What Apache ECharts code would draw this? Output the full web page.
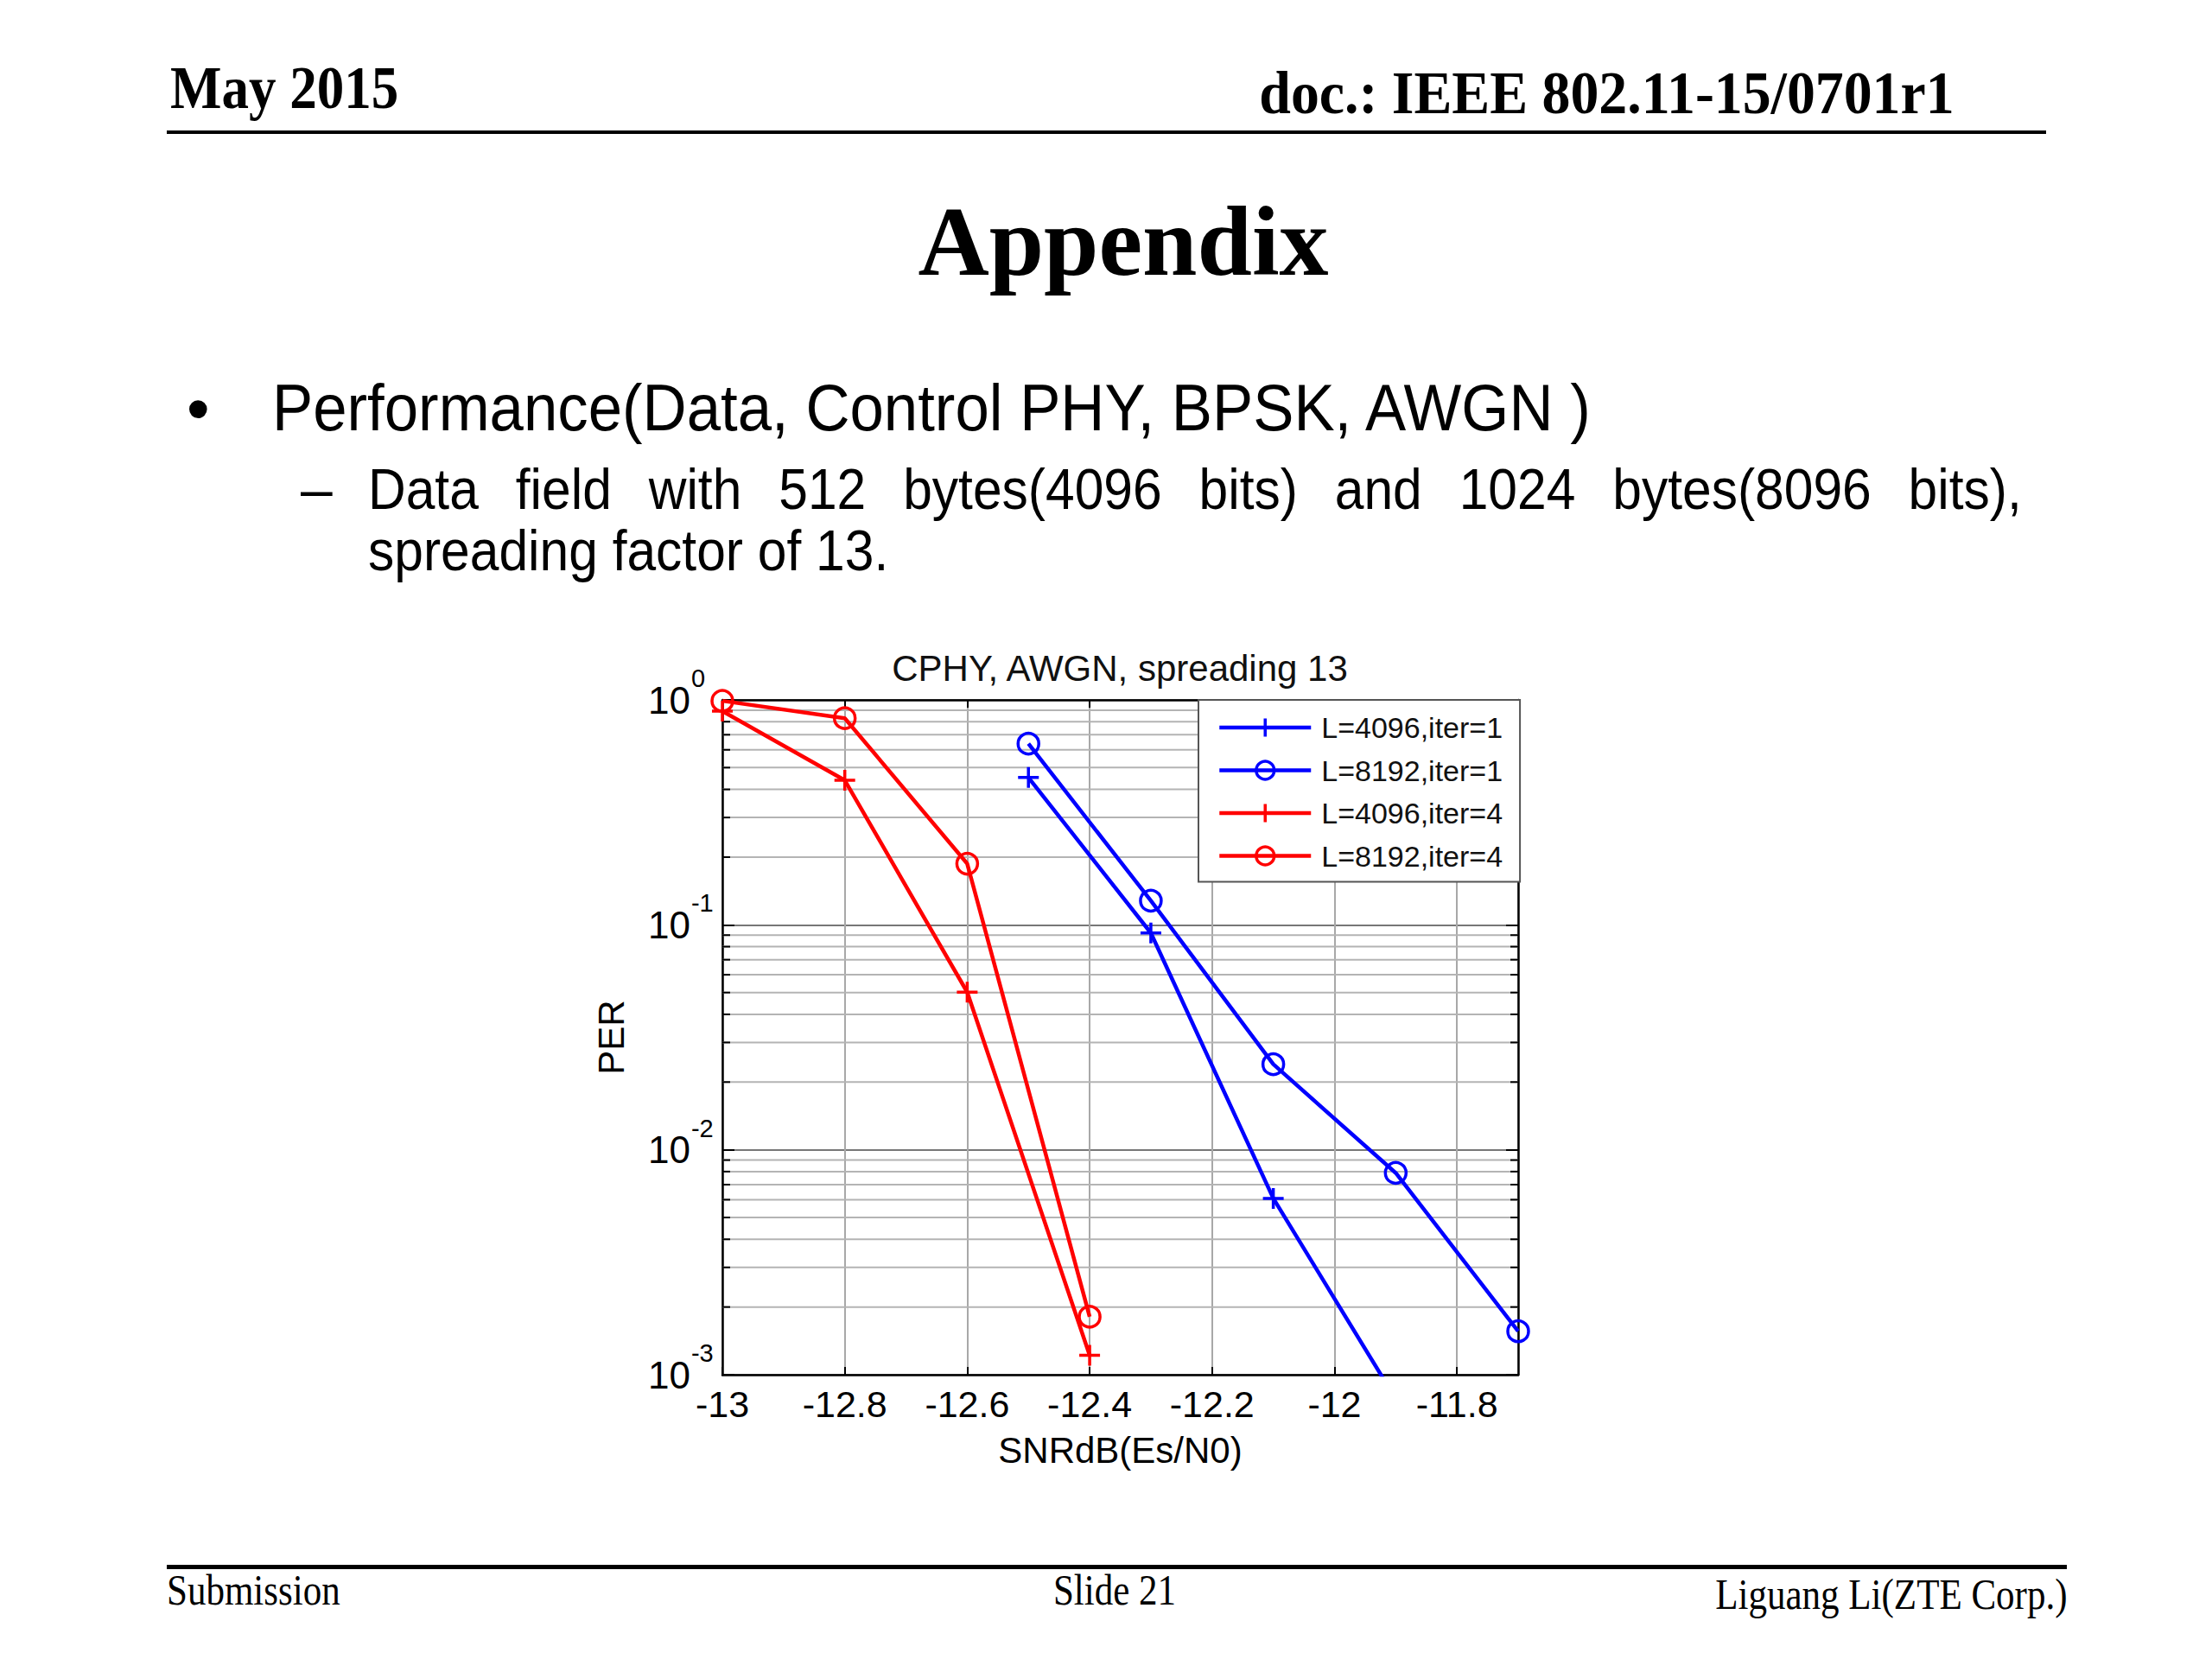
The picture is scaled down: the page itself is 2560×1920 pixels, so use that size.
<!DOCTYPE html>
<html><head><meta charset="utf-8">
<script src="https://cdn.jsdelivr.net/npm/echarts@6/dist/echarts.min.js"></script>
<style>
html,body{margin:0;padding:0;background:#fff;}
#page{position:relative;width:2560px;height:1920px;overflow:hidden;background:#fff;}
#chart{position:absolute;left:0;top:0;width:2560px;height:1920px;}
.t{position:absolute;white-space:nowrap;line-height:1;color:#000;z-index:2;}
.serif{font-family:"Liberation Serif","Times New Roman",serif;}
.sans{font-family:"Liberation Sans",Arial,sans-serif;}
.rule{position:absolute;background:#000;z-index:2;}
</style></head>
<body><div id="page">
<div id="chart"></div>
<div class="t serif" style="left:197px;top:67px;font-size:70px;font-weight:bold;transform:scaleX(0.9);transform-origin:left top;">May 2015</div>
<div class="t serif" style="right:298px;top:73px;font-size:70px;font-weight:bold;transform:scaleX(0.94);transform-origin:right top;">doc.: IEEE 802.11-15/0701r1</div>
<div class="rule" style="left:193px;top:151px;width:2175px;height:4px;"></div>
<div class="t serif" style="left:1300px;top:223px;font-size:114px;font-weight:bold;transform:translateX(-50%);">Appendix</div>
<div class="t sans" style="left:216px;top:435px;font-size:76px;">•</div>
<div class="t sans" style="left:315px;top:434px;font-size:76px;transform:scaleX(0.931);transform-origin:left top;">Performance(Data, Control PHY, BPSK, AWGN )</div>
<div class="t sans" style="left:348px;top:533px;font-size:66px;">–</div>
<div class="t sans" style="left:426px;top:533px;font-size:66px;width:2087px;text-align:justify;text-align-last:justify;white-space:normal;transform:scaleX(0.917);transform-origin:left top;">Data field with 512 bytes(4096 bits) and 1024 bytes(8096 bits),</div>
<div class="t sans" style="left:426px;top:604px;font-size:66px;transform:scaleX(0.917);transform-origin:left top;">spreading factor of 13.</div>
<div class="rule" style="left:193px;top:1811px;width:2199px;height:5px;"></div>
<div class="t serif" style="left:193px;top:1815px;font-size:50px;transform:scaleX(0.86);transform-origin:left top;">Submission</div>
<div class="t serif" style="left:1290px;top:1815px;font-size:50px;transform:translateX(-50%) scaleX(0.86);">Slide 21</div>
<div class="t serif" style="right:168px;top:1820px;font-size:50px;transform:scaleX(0.86);transform-origin:right top;">Liguang Li(ZTE Corp.)</div>
</div>
<script>
// ---- data ----
const snrIter1 = [-12.5, -12.3, -12.1, -11.9, -11.7];
const snrIter4 = [-13, -12.8, -12.6, -12.4];
const perL4096Iter1 = [0.452, 0.092, 0.00608, 0.00078];
const perL8192Iter1 = [0.639, 0.128, 0.0240, 0.00789, 0.00156];
const perL4096Iter4 = [0.891, 0.439, 0.0502, 0.00122];
const perL8192Iter4 = [0.99, 0.829, 0.187, 0.00181];
const seriesNames = ['L=4096,iter=1', 'L=8192,iter=1', 'L=4096,iter=4', 'L=8192,iter=4'];
const xMin = -13, xMax = -11.7, xStep = 0.2;
const yMin = 0.001, yMax = 1;
const minorMantissas = [2, 3, 4, 5, 6, 7, 8, 9];
const minorDecades = [-3, -2, -1];
const chartTitle = 'CPHY, AWGN, spreading 13';
const xName = 'SNRdB(Es/N0)';
const yName = 'PER';

const FONT = '"Liberation Sans", Arial, sans-serif';
const BLUE = '#0000ff', RED = '#ff0000';
const PLUS = 'path://M10,0L10,20M0,10L20,10';

function zip(xs, ys) { return ys.map((y, i) => [xs[i], y]); }
const minorTicks = [];
minorDecades.forEach(d => minorMantissas.forEach(m => minorTicks.push(+(m * Math.pow(10, d)).toPrecision(3))));

function lineSeries(name, xs, ys, color, marker) {
  const isCircle = marker === 'circle';
  return {
    name, type: 'line', xAxisIndex: 0, yAxisIndex: 0,
    data: zip(xs, ys),
    symbol: isCircle ? 'circle' : PLUS,
    symbolSize: 24,
    showAllSymbol: true,
    lineStyle: { color, width: 4.5 },
    itemStyle: { color: isCircle ? 'rgba(0,0,0,0)' : color, borderColor: color, borderWidth: 3.5 },
    emphasis: { disabled: true },
    clip: true, z: 3, animation: false
  };
}

const chart = echarts.init(document.getElementById('chart'), null, { renderer: 'svg', width: 2560, height: 1920 });
const axisLineStyle = { color: '#000', width: 2.5 };
chart.setOption({
  animation: false,
  backgroundColor: 'transparent',
  textStyle: { fontFamily: FONT, color: '#000' },
  title: {
    text: chartTitle, left: 1296, top: 752, textAlign: 'center', padding: 0,
    textStyle: { fontSize: 42, fontWeight: 'normal', color: '#111', fontFamily: FONT }
  },
  grid: { left: 836, top: 810, width: 921, height: 781, containLabel: false },
  legend: {
    orient: 'vertical', left: 1387, top: 810, data: seriesNames,
    itemWidth: 106, itemHeight: 26, itemGap: 15.5,
    padding: [15, 20, 13, 22],
    backgroundColor: '#fff', borderColor: '#555', borderWidth: 2,
    selectedMode: false,
    lineStyle: { width: 4.5 },
    itemStyle: { borderWidth: 3.5 },
    textStyle: { fontSize: 34, color: '#111', fontFamily: FONT, lineHeight: 34, padding: [0, 0, 0, 7] }
  },
  xAxis: [
    {
      type: 'value', min: xMin, max: xMax, interval: xStep, position: 'bottom',
      axisLine: { show: true, onZero: false, lineStyle: axisLineStyle },
      axisTick: { show: true, inside: true, length: 9, lineStyle: { color: '#000', width: 2 } },
      axisLabel: { show: true, margin: 12, fontSize: 43, color: '#000', fontFamily: FONT, showMaxLabel: false,
        formatter: v => String(+(+v).toFixed(1)) },
      splitLine: { show: true, lineStyle: { color: '#a8a8a8', width: 2 } },
      name: xName, nameLocation: 'middle', nameGap: 66,
      nameTextStyle: { fontSize: 42, color: '#000', fontFamily: FONT }
    },
    {
      type: 'value', min: xMin, max: xMax, interval: xStep, position: 'top',
      axisLine: { show: true, onZero: false, lineStyle: axisLineStyle },
      axisTick: { show: true, inside: true, length: 9, lineStyle: { color: '#000', width: 2 } },
      axisLabel: { show: false }, splitLine: { show: false }
    }
  ],
  yAxis: [
    {
      type: 'log', logBase: 10, min: yMin, max: yMax, position: 'left',
      axisLine: { show: true, onZero: false, lineStyle: axisLineStyle },
      axisTick: { show: true, inside: true, length: 14, lineStyle: { color: '#000', width: 2 } },
      axisLabel: {
        margin: 86, align: 'left', color: '#000', fontFamily: FONT,
        formatter: v => '{b|10}{s|' + Math.round(Math.log10(v)) + '}',
        rich: {
          b: { fontSize: 44, color: '#000', fontFamily: FONT },
          s: { fontSize: 29, color: '#000', fontFamily: FONT, padding: [0, 0, 50, 1] }
        }
      },
      splitLine: { show: true, lineStyle: { color: '#777', width: 2 } },
      name: yName, nameLocation: 'middle', nameGap: 108,
      nameTextStyle: { fontSize: 42, color: '#000', fontFamily: FONT }
    },
    {
      type: 'log', logBase: 10, min: yMin, max: yMax, position: 'right',
      axisLine: { show: true, onZero: false, lineStyle: axisLineStyle },
      axisTick: { show: true, inside: true, length: 14, lineStyle: { color: '#000', width: 2 } },
      axisLabel: { show: false }, splitLine: { show: false }
    }
  ],
  series: [
    {
      type: 'custom', xAxisIndex: 0, yAxisIndex: 0, silent: true, z: 1, clip: false,
      data: minorTicks.map(v => [xMin, v]), encode: { x: 0, y: 1 },
      renderItem: (params, api) => {
        const cs = params.coordSys;
        const y = api.coord([api.value(0), api.value(1)])[1];
        return {
          type: 'group', children: [
            { type: 'line', shape: { x1: cs.x, y1: y, x2: cs.x + cs.width, y2: y }, style: { stroke: '#b4b4b4', lineWidth: 2 } },
            { type: 'line', shape: { x1: cs.x, y1: y, x2: cs.x + 9, y2: y }, style: { stroke: '#000', lineWidth: 2 } },
            { type: 'line', shape: { x1: cs.x + cs.width - 9, y1: y, x2: cs.x + cs.width, y2: y }, style: { stroke: '#000', lineWidth: 2 } }
          ]
        };
      }
    },
    lineSeries(seriesNames[0], snrIter1, perL4096Iter1, BLUE, 'plus'),
    lineSeries(seriesNames[1], snrIter1, perL8192Iter1, BLUE, 'circle'),
    lineSeries(seriesNames[2], snrIter4, perL4096Iter4, RED, 'plus'),
    lineSeries(seriesNames[3], snrIter4, perL8192Iter4, RED, 'circle')
  ]
});
</script>
</body></html>
